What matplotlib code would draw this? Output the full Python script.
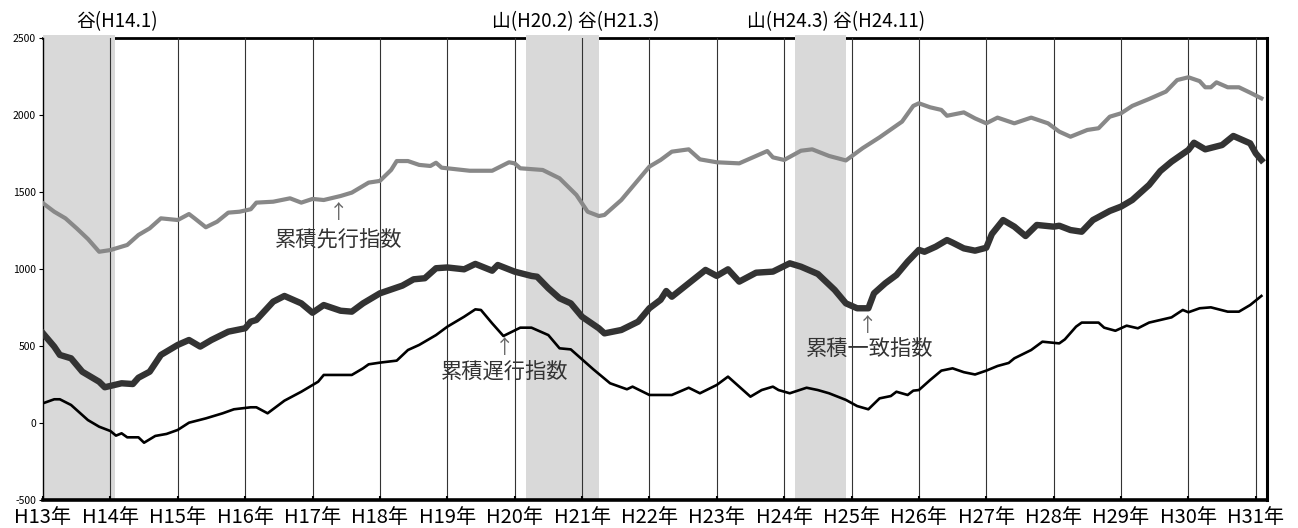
import matplotlib
matplotlib.use("Agg")
import matplotlib.pyplot as plt

plt.rcParams['font.family'] = ['Noto Sans CJK JP', 'DejaVu Sans']

# ---- data (x = month index from H13.1) ----
lead_m = [0, 2, 4, 6, 8, 10, 12, 15, 17, 19, 21, 24, 26, 27, 29, 31, 33, 35, 37, 38, 41, 44, 46, 48, 50,
          53, 55, 58, 60, 62, 63, 65, 67, 69, 70, 71, 73, 76, 80, 83, 84, 85, 89, 92, 95, 97, 99, 100,
          103, 106, 108, 110, 112, 115, 117, 120, 124, 127, 129, 130, 132, 135, 137, 140, 143, 146,
          149, 153, 155, 156, 158, 160, 161, 164, 166, 168, 170, 173, 176, 179, 181, 183, 186, 188,
          190, 192, 194, 197, 200, 202, 204, 206, 207, 208, 209, 211, 213, 215, 217]
lead_v = [1427, 1372, 1329, 1264, 1195, 1112, 1123, 1156, 1221, 1264, 1329, 1318, 1357, 1329, 1271, 1307,
          1366, 1372, 1388, 1431, 1437, 1459, 1431, 1455, 1448, 1474, 1496, 1561, 1572, 1643, 1701, 1701,
          1676, 1669, 1690, 1658, 1650, 1638, 1638, 1693, 1686, 1654, 1643, 1589, 1481, 1372, 1344, 1351,
          1448, 1578, 1665, 1708, 1762, 1777, 1712, 1693, 1686, 1734, 1766, 1725, 1708, 1768, 1777, 1734,
          1705, 1785, 1855, 1957, 2059, 2076, 2050, 2033, 1995, 2017, 1978, 1946, 1983, 1946, 1983, 1946,
          1892, 1859, 1903, 1914, 1989, 2011, 2059, 2104, 2152, 2227, 2245, 2220, 2180, 2180, 2212, 2180,
          2180, 2145, 2108]

coin_m = [0, 2, 3, 5, 7, 10, 11, 14, 16, 17, 19, 21, 24, 26, 28, 30, 33, 36, 37, 38, 41, 43, 46, 48, 50,
          53, 55, 57, 60, 64, 66, 68, 70, 72, 75, 77, 80, 81, 84, 87, 88, 90, 92, 94, 96, 99, 100, 103,
          106, 108, 110, 111, 112, 115, 118, 120, 122, 124, 127, 130, 133, 135, 138, 141, 143, 145, 147,
          148, 150, 152, 154, 156, 157, 159, 161, 162, 164, 166, 168, 169, 171, 173, 175, 177, 180, 181,
          183, 185, 187, 190, 192, 194, 197, 199, 201, 204, 205, 207, 210, 212, 215, 216, 217]
coin_v = [582, 496, 442, 420, 333, 268, 232, 258, 253, 294, 333, 442, 507, 539, 496, 539, 593, 615, 658,
          669, 788, 825, 777, 716, 766, 729, 723, 777, 842, 892, 933, 940, 1005, 1010, 998, 1033, 989,
          1026, 983, 955, 950, 875, 810, 777, 690, 615, 582, 604, 658, 745, 800, 857, 820, 907, 994, 955,
          998, 918, 976, 983, 1037, 1015, 968, 864, 777, 745, 745, 842, 907, 961, 1048, 1124, 1112, 1145,
          1188, 1171, 1134, 1119, 1138, 1227, 1318, 1275, 1214, 1286, 1275, 1281, 1253, 1242, 1318, 1377,
          1405, 1448, 1546, 1636, 1697, 1773, 1820, 1777, 1805, 1864, 1816, 1751, 1708]

lag_m = [0, 2, 3, 5, 8, 10, 12, 13, 14, 15, 17, 18, 20, 22, 24, 26, 29, 32, 34, 37, 38, 40, 43, 46, 49,
         50, 55, 57, 58, 60, 63, 65, 67, 70, 72, 75, 77, 78, 80, 82, 85, 87, 90, 92, 94, 98, 101, 103,
         104, 105, 108, 112, 115, 117, 120, 122, 124, 126, 128, 130, 131, 133, 136, 138, 140, 143, 145,
         147, 149, 151, 152, 154, 155, 156, 158, 160, 162, 164, 166, 168, 170, 172, 173, 176, 178, 181,
         182, 184, 185, 188, 189, 191, 193, 195, 197, 199, 201, 203, 204, 206, 208, 211, 213, 215, 217]
lag_v = [128, 154, 154, 117, 19, -24, -52, -82, -67, -93, -93, -128, -84, -71, -45, 2, 30, 63, 89, 102,
         102, 63, 145, 203, 268, 312, 312, 355, 381, 392, 405, 474, 507, 571, 625, 690, 738, 734, 647, 565,
         619, 619, 571, 485, 478, 349, 258, 232, 219, 236, 182, 182, 229, 193, 247, 301, 236, 171, 214,
         236, 214, 193, 229, 214, 193, 150, 110, 89, 160, 175, 203, 182, 210, 214, 279, 340, 355, 330, 315,
         340, 370, 390, 420, 474, 528, 517, 543, 626, 652, 652, 619, 599, 632, 615, 652, 669, 686, 734,
         719, 745, 751, 723, 723, 766, 825]

year_labels = ['H13年', 'H14年', 'H15年', 'H16年', 'H17年', 'H18年', 'H19年', 'H20年', 'H21年', 'H22年',
               'H23年', 'H24年', 'H25年', 'H26年', 'H27年', 'H28年', 'H29年', 'H30年', 'H31年']
shade_start = [0, 86, 134]
shade_end = [12.8, 99, 143]
top_texts = ['谷(H14.1)', '山(H20.2) 谷(H21.3)', '山(H24.3) 谷(H24.11)']
top_text_x = [6.0, 80, 125.3]

ann_text = ['累積先行指数', '累積遅行指数', '累積一致指数']
ann_x = [52.6, 82.3, 147.2]
ann_y = [1185, 325, 474]
arrow_x = [52.7, 82.2, 146.9]
arrow_y = [1370, 493, 636]

fig = plt.figure(figsize=(12.98, 5.28), dpi=100)
ax = fig.add_axes([43/1298, 1-500/528, (1267-43)/1298, (500-38)/528])

for s, e in zip(shade_start, shade_end):
    ax.axvspan(s, e, ymin=0, ymax=1.006, color='#d9d9d9', lw=0, zorder=1, clip_on=False)

ticks = [12*i for i in range(len(year_labels))]
for t in ticks[1:]:
    ax.axvline(t, color='#333333', lw=0.8, zorder=1.5)

ax.plot(lead_m, lead_v, color='#888888', lw=3.0, zorder=3, solid_joinstyle='round')
ax.plot(coin_m, coin_v, color='#333333', lw=4.6, zorder=3, solid_joinstyle='round')
ax.plot(lag_m, lag_v, color='#000000', lw=1.9, zorder=3, solid_joinstyle='round')

ax.set_xlim(0, 218)
ax.set_ylim(-500, 2500)
ax.set_yticks([-500, 0, 500, 1000, 1500, 2000, 2500])
ax.set_yticklabels(['-500', '0', '500', '1000', '1500', '2000', '2500'], fontsize=7.5)
ax.set_xticks(ticks)
ax.set_xticklabels(year_labels, fontsize=14.5)
ax.tick_params(axis='x', direction='in', length=3, width=1.5, pad=5)
ax.tick_params(axis='y', direction='out', length=3, width=0.8, pad=2)

ax.spines['top'].set_linewidth(2.0)
ax.spines['top'].set_zorder(0.5)
ax.spines['bottom'].set_linewidth(2.6)
ax.spines['bottom'].set_zorder(4)
ax.spines['right'].set_linewidth(2.2)
ax.spines['left'].set_linewidth(1.0)

for txt, x in zip(top_texts, top_text_x):
    ax.text(x, 1.012, txt, transform=ax.get_xaxis_transform(), ha='left', va='bottom',
            fontsize=13.5, color='black')

for t, x, y in zip(ann_text, ann_x, ann_y):
    ax.text(x, y, t, ha='center', va='center', fontsize=15.3, color='#333333', zorder=5)
for x, y in zip(arrow_x, arrow_y):
    ax.text(x, y, '↑', ha='center', va='center', fontsize=14, color='#666666', zorder=5)

fig.savefig('out.png', dpi=100)
